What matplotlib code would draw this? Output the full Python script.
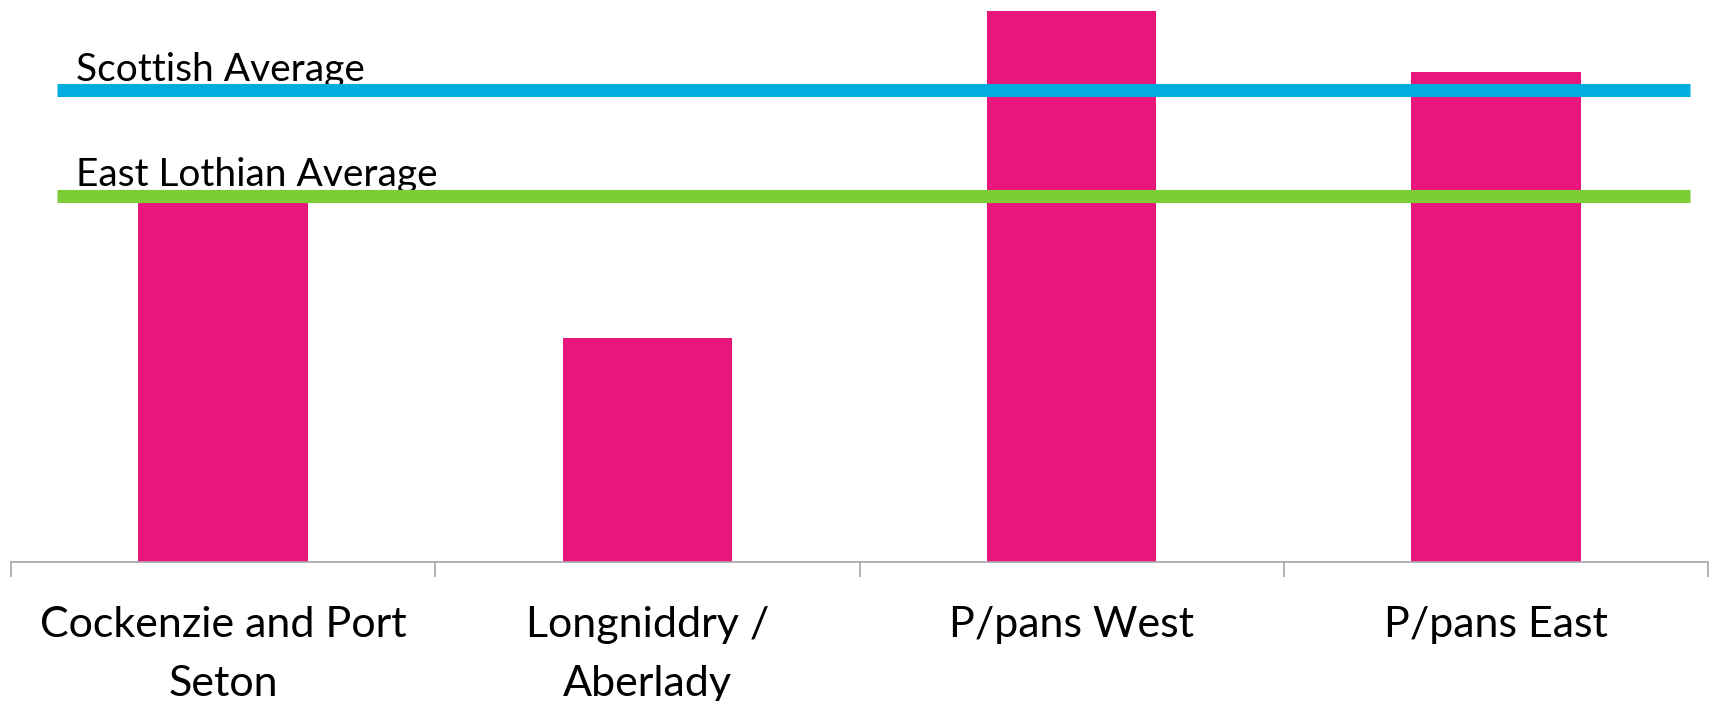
import matplotlib
matplotlib.use("Agg")
import matplotlib.pyplot as plt
import matplotlib.transforms as mtransforms

categories = ["Cockenzie and Port\nSeton", "Longniddry /\nAberlady", "P/pans West", "P/pans East"]
values = [20.15, 12.5, 30.7, 27.3]
scottish_avg = 26.26
east_lothian_avg = 20.4

BAR = "#E9177B"
BLUE = "#00ADDE"
GREEN = "#7DCE36"
GRAY = "#A6A6A6"

plt.rcParams['font.family'] = ['Lato', 'DejaVu Sans']

W, H = 1711, 701
fig = plt.figure(figsize=(W / 100, H / 100), dpi=100)
ax = fig.add_axes([11 / W, (H - 562) / H, 1697 / W, 562 / H])

x = list(range(len(categories)))
ax.bar(x, values, width=0.4, color=BAR, zorder=2)
ax.set_xlim(-0.5, len(categories) - 0.5)
ax.set_ylim(0, 31.3)

trans = mtransforms.blended_transform_factory(ax.transAxes, ax.transData)
x0, x1 = (57 - 11) / 1697, (1690 - 11) / 1697
for val, col, lab in [(scottish_avg, BLUE, "Scottish Average"),
                      (east_lothian_avg, GREEN, "East Lothian Average")]:
    ax.plot([x0, x1], [val, val], transform=trans, color=col, lw=9.4,
            solid_capstyle='butt', zorder=4)
    ax.annotate(lab, xy=(0.0385, val), xycoords=trans, xytext=(0, 7.0),
                textcoords='offset points', va='baseline', ha='left',
                fontsize=28, color='black', zorder=3)

for s in ['top', 'right', 'left']:
    ax.spines[s].set_visible(False)
ax.spines['bottom'].set_color(GRAY)
ax.spines['bottom'].set_linewidth(1.2)
ax.set_yticks([])

ax.set_xticks([i - 0.5 for i in range(len(categories) + 1)])
ax.set_xticklabels([])
ax.tick_params(axis='x', which='major', length=11, width=1.2, color=GRAY, direction='out')
ax.set_xticks(x, minor=True)
ax.set_xticklabels(categories, minor=True, fontsize=31, linespacing=1.65)
ax.tick_params(axis='x', which='minor', length=0, pad=32)

fig.savefig("out.png", dpi=100)
